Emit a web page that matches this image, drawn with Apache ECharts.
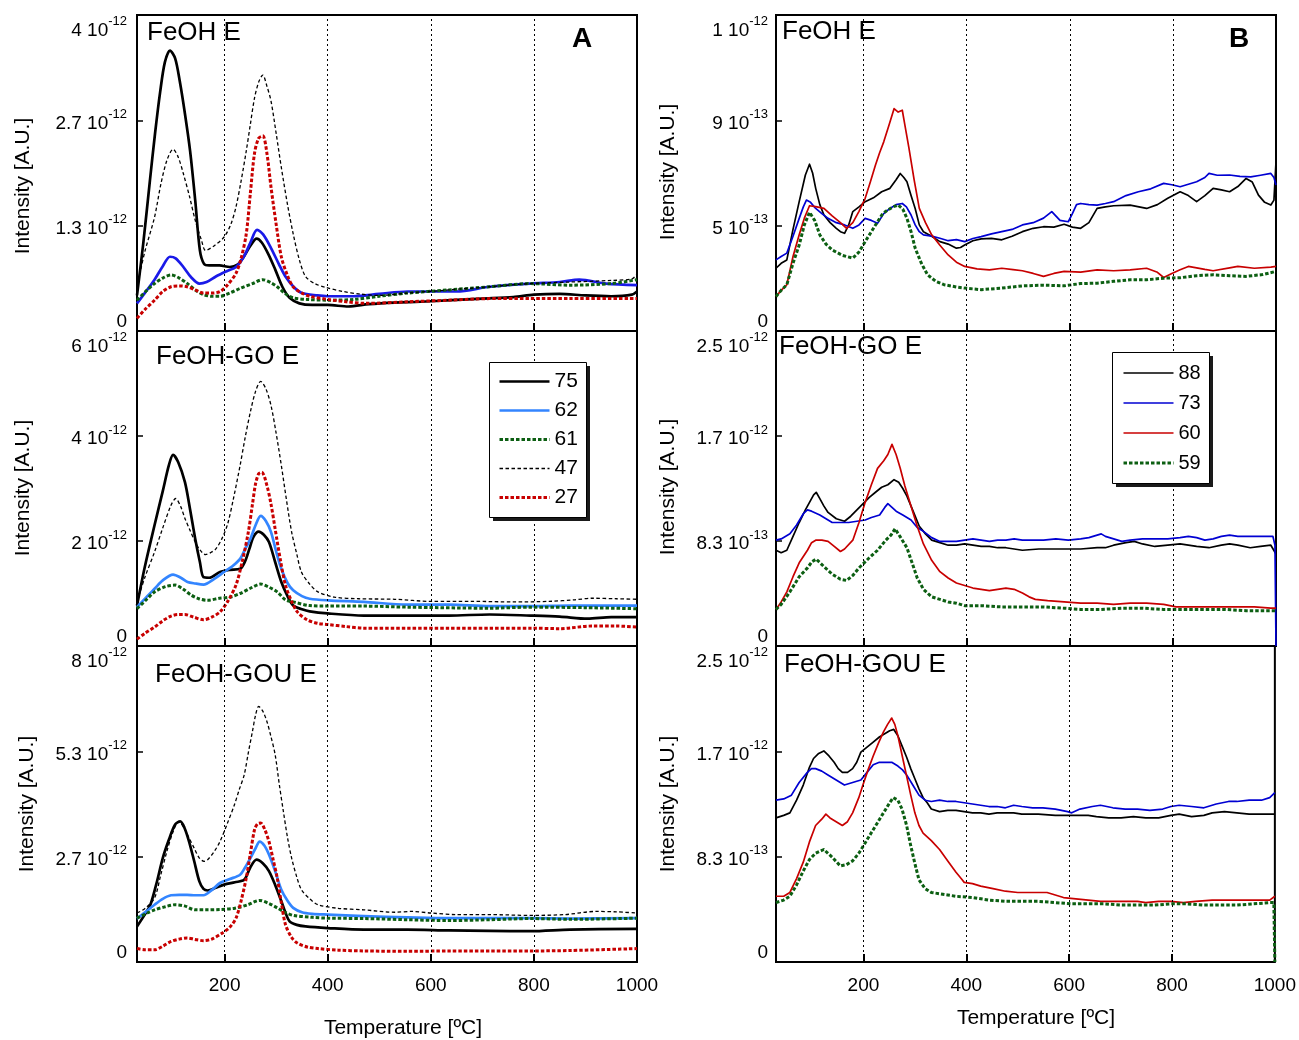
<!DOCTYPE html>
<html>
<head>
<meta charset="utf-8">
<script src="https://cdn.jsdelivr.net/npm/echarts@6/dist/echarts.min.js"></script>
<style>
  html, body { margin: 0; padding: 0; background: #fff; }
  #chart { width: 1299px; height: 1040px; }
</style>
</head>
<body>
<div id="chart"></div>
<script>
// Temperature axis (°C) and tick positions
const tempMin = 30, tempMax = 1000;
const tempTicks = [200, 400, 600, 800, 1000];
const tempGrid = [200, 400, 600, 800];

// Intensity axes, values in units of 1e-12; labels as [mantissa, exponent]
const yMaxA = [4, 6, 8];
const yMaxB = [1.4, 2.5, 2.5];
const yLabelsA1 = [['0'], ['1.3', '-12'], ['2.7', '-12'], ['4', '-12']];
const yLabelsA2 = [['0'], ['2', '-12'], ['4', '-12'], ['6', '-12']];
const yLabelsA3 = [['0'], ['2.7', '-12'], ['5.3', '-12'], ['8', '-12']];
const yLabelsB1 = [['0'], ['5', '-13'], ['9', '-13'], ['1', '-12']];
const yLabelsB2 = [['0'], ['8.3', '-13'], ['1.7', '-12'], ['2.5', '-12']];
const yLabelsB3 = [['0'], ['8.3', '-13'], ['1.7', '-12'], ['2.5', '-12']];

const panelNames = ['FeOH E', 'FeOH-GO E', 'FeOH-GOU E'];
const namesA = ['75', '62', '61', '47', '27'];
const namesB = ['88', '73', '60', '59'];

// ---- Column A : [temperature, intensity] ----
const a1_75 = [[30,0.45],[42,1.10],[55,1.90],[65,2.50],[75,3.03],[84,3.40],[94,3.55],[104,3.45],[113,3.16],[123,2.75],[133,2.28],[143,1.65],[152,1.02],[160,0.85],[170,0.83],[190,0.83],[210,0.81],[225,0.84],[238,0.95],[250,1.08],[262,1.17],[272,1.12],[285,0.97],[298,0.78],[312,0.56],[326,0.42],[345,0.35],[370,0.33],[400,0.33],[440,0.31],[480,0.34],[530,0.36],[580,0.37],[640,0.39],[700,0.41],[760,0.43],[800,0.46],[850,0.47],[900,0.45],[950,0.44],[990,0.46],[1000,0.50]];
const a1_62 = [[30,0.35],[45,0.48],[64,0.65],[80,0.82],[94,0.94],[105,0.92],[120,0.81],[135,0.68],[151,0.60],[165,0.62],[183,0.69],[205,0.76],[222,0.81],[238,0.95],[250,1.12],[263,1.28],[275,1.22],[290,1.05],[305,0.85],[318,0.69],[335,0.55],[350,0.48],[380,0.45],[400,0.44],[450,0.44],[500,0.47],[555,0.50],[600,0.50],[650,0.50],[714,0.56],[793,0.60],[850,0.62],[888,0.65],[940,0.60],[1000,0.58]];
const a1_61 = [[30,0.39],[50,0.52],[64,0.60],[80,0.67],[96,0.71],[112,0.67],[128,0.60],[145,0.51],[159,0.46],[175,0.44],[191,0.44],[210,0.48],[230,0.54],[254,0.60],[274,0.65],[290,0.61],[302,0.56],[318,0.47],[333,0.42],[360,0.40],[400,0.39],[450,0.40],[500,0.44],[555,0.48],[635,0.52],[714,0.56],[793,0.60],[870,0.58],[950,0.60],[1000,0.65]];
const a1_47 = [[30,0.56],[45,1.00],[64,1.44],[76,1.85],[88,2.16],[100,2.30],[110,2.20],[120,1.99],[132,1.70],[143,1.40],[155,1.15],[163,1.02],[180,1.08],[199,1.19],[212,1.35],[222,1.57],[232,1.90],[242,2.28],[250,2.62],[258,2.95],[266,3.15],[274,3.24],[282,3.10],[290,2.91],[300,2.50],[310,2.07],[322,1.60],[333,1.23],[345,0.90],[357,0.69],[375,0.60],[397,0.55],[430,0.50],[460,0.47],[500,0.45],[555,0.48],[635,0.52],[714,0.56],[793,0.60],[870,0.62],[950,0.64],[990,0.66],[1000,0.72]];
const a1_27 = [[30,0.16],[45,0.27],[64,0.39],[80,0.50],[96,0.56],[112,0.57],[127,0.56],[143,0.52],[159,0.48],[175,0.48],[191,0.50],[205,0.58],[222,0.73],[232,0.92],[242,1.23],[250,1.75],[258,2.25],[266,2.44],[274,2.47],[282,2.25],[290,1.82],[300,1.35],[310,0.94],[322,0.70],[333,0.56],[350,0.48],[365,0.44],[400,0.40],[436,0.37],[475,0.35],[555,0.37],[635,0.39],[714,0.41],[793,0.41],[870,0.41],[1000,0.41]];

const a2_75 = [[30,0.77],[45,1.50],[64,2.30],[80,2.95],[92,3.45],[100,3.64],[110,3.50],[123,3.12],[133,2.60],[143,2.04],[152,1.60],[159,1.31],[170,1.30],[191,1.41],[210,1.45],[230,1.47],[240,1.62],[248,1.85],[256,2.08],[266,2.18],[276,2.12],[286,1.98],[298,1.60],[310,1.22],[322,0.95],[333,0.77],[350,0.70],[365,0.66],[400,0.62],[470,0.58],[555,0.58],[635,0.58],[714,0.60],[793,0.58],[850,0.56],[904,0.52],[950,0.55],[1000,0.55]];
const a2_62 = [[30,0.74],[50,0.95],[64,1.09],[80,1.25],[100,1.36],[115,1.30],[128,1.22],[143,1.19],[159,1.17],[180,1.28],[199,1.41],[215,1.52],[230,1.66],[240,1.85],[250,2.04],[260,2.30],[270,2.48],[280,2.38],[290,2.17],[300,1.80],[310,1.47],[322,1.20],[333,1.06],[350,0.95],[365,0.90],[400,0.87],[470,0.84],[555,0.79],[635,0.79],[714,0.76],[793,0.76],[870,0.77],[1000,0.77]];
const a2_61 = [[30,0.71],[50,0.90],[64,1.03],[85,1.13],[104,1.16],[120,1.08],[135,0.97],[150,0.90],[167,0.87],[190,0.91],[210,0.93],[230,1.00],[250,1.10],[270,1.18],[286,1.12],[302,1.03],[318,0.88],[333,0.84],[365,0.77],[400,0.76],[470,0.76],[555,0.74],[714,0.72],[793,0.74],[900,0.73],[1000,0.71]];
const a2_47 = [[30,0.84],[45,1.30],[64,1.79],[80,2.25],[96,2.68],[105,2.81],[115,2.65],[123,2.43],[133,2.20],[143,1.98],[153,1.82],[163,1.74],[173,1.78],[183,1.85],[195,2.05],[206,2.33],[218,2.85],[230,3.44],[240,3.98],[250,4.46],[260,4.85],[270,5.04],[280,4.90],[290,4.58],[300,4.05],[310,3.44],[320,2.78],[330,2.17],[340,1.75],[349,1.41],[365,1.18],[381,1.03],[413,0.93],[460,0.90],[530,0.89],[600,0.85],[680,0.85],[760,0.84],[830,0.85],[880,0.88],[912,0.91],[960,0.90],[1000,0.89]];
const a2_27 = [[30,0.13],[45,0.24],[64,0.36],[80,0.48],[96,0.57],[110,0.60],[123,0.60],[140,0.55],[159,0.50],[175,0.55],[191,0.65],[206,0.85],[222,1.16],[234,1.60],[246,2.17],[254,2.70],[260,3.09],[266,3.28],[272,3.31],[282,3.06],[290,2.70],[298,2.23],[308,1.65],[318,1.16],[330,0.85],[341,0.65],[360,0.50],[381,0.43],[400,0.41],[436,0.37],[470,0.34],[555,0.34],[635,0.34],[714,0.34],[793,0.34],[850,0.33],[912,0.38],[960,0.38],[1000,0.36]];

const a3_75 = [[30,0.90],[45,1.20],[56,1.45],[68,2.00],[80,2.63],[92,3.10],[104,3.48],[114,3.56],[122,3.40],[131,3.05],[141,2.55],[151,2.04],[159,1.85],[167,1.81],[183,1.88],[199,1.96],[220,2.02],[238,2.08],[250,2.40],[262,2.59],[274,2.50],[286,2.30],[298,1.95],[310,1.54],[318,1.25],[326,1.03],[340,0.94],[357,0.90],[400,0.86],[470,0.82],[555,0.82],[635,0.80],[714,0.79],[793,0.78],[870,0.82],[1000,0.84]];
const a3_62 = [[30,1.10],[45,1.25],[64,1.45],[80,1.60],[96,1.69],[112,1.70],[127,1.70],[143,1.69],[159,1.69],[175,1.82],[191,2.00],[210,2.10],[230,2.21],[240,2.40],[250,2.63],[260,2.88],[268,3.05],[277,2.95],[286,2.72],[298,2.30],[310,1.83],[322,1.55],[333,1.37],[350,1.26],[370,1.22],[400,1.20],[470,1.16],[555,1.13],[635,1.11],[714,1.11],[793,1.11],[870,1.10],[1000,1.11]];
const a3_61 = [[30,1.11],[50,1.24],[64,1.32],[85,1.40],[104,1.45],[122,1.42],[143,1.32],[165,1.32],[191,1.33],[220,1.36],[245,1.45],[268,1.56],[286,1.48],[302,1.37],[318,1.25],[333,1.18],[370,1.13],[400,1.11],[470,1.10],[555,1.07],[635,1.05],[714,1.07],[793,1.10],[870,1.08],[1000,1.11]];
const a3_47 = [[30,1.24],[45,1.35],[64,1.62],[76,2.20],[88,2.80],[100,3.30],[111,3.56],[121,3.40],[131,3.14],[141,2.88],[151,2.63],[160,2.55],[167,2.59],[180,2.80],[191,3.05],[205,3.50],[219,3.98],[228,4.35],[238,4.74],[246,5.30],[254,5.84],[260,6.25],[266,6.47],[274,6.35],[282,6.09],[290,5.70],[298,5.25],[306,4.50],[314,3.81],[322,3.15],[330,2.63],[340,2.15],[349,1.83],[365,1.60],[381,1.45],[420,1.36],[470,1.32],[530,1.26],[563,1.28],[600,1.24],[650,1.20],[714,1.20],[793,1.18],[860,1.20],[920,1.28],[960,1.27],[1000,1.24]];
const a3_27 = [[30,0.34],[45,0.31],[64,0.31],[80,0.40],[96,0.52],[112,0.58],[127,0.61],[143,0.57],[159,0.54],[175,0.58],[195,0.73],[210,0.88],[222,1.11],[232,1.55],[242,2.13],[250,2.75],[258,3.35],[264,3.50],[270,3.52],[278,3.35],[286,3.05],[294,2.60],[302,2.13],[310,1.50],[318,0.95],[330,0.62],[341,0.48],[360,0.38],[381,0.34],[420,0.30],[470,0.28],[555,0.27],[635,0.28],[714,0.28],[793,0.28],[870,0.29],[1000,0.34]];

// ---- Column B : [temperature, intensity] ----
const b1_88 = [[30,0.278],[40,0.300],[51,0.315],[63,0.45],[75,0.573],[87,0.691],[95,0.739],[101,0.70],[107,0.632],[115,0.56],[123,0.514],[135,0.48],[147,0.455],[155,0.44],[163,0.433],[171,0.47],[179,0.529],[191,0.55],[203,0.573],[219,0.59],[235,0.617],[251,0.632],[263,0.67],[271,0.698],[278,0.68],[284,0.661],[292,0.60],[300,0.543],[308,0.47],[316,0.44],[332,0.42],[348,0.396],[364,0.385],[380,0.367],[388,0.37],[396,0.381],[412,0.40],[428,0.408],[448,0.41],[468,0.404],[488,0.42],[508,0.44],[529,0.455],[549,0.462],[569,0.46],[589,0.473],[605,0.46],[621,0.455],[637,0.48],[653,0.543],[669,0.55],[685,0.555],[717,0.558],[749,0.543],[770,0.56],[790,0.588],[814,0.617],[830,0.60],[846,0.573],[862,0.60],[878,0.632],[894,0.625],[910,0.617],[926,0.64],[942,0.676],[954,0.66],[966,0.602],[978,0.57],[990,0.558],[996,0.58],[1000,0.75]];
const b1_73 = [[30,0.315],[40,0.33],[51,0.345],[63,0.42],[75,0.499],[83,0.55],[89,0.58],[97,0.57],[107,0.543],[119,0.52],[131,0.499],[147,0.48],[163,0.47],[179,0.455],[191,0.47],[203,0.499],[215,0.49],[227,0.477],[239,0.52],[251,0.543],[263,0.56],[275,0.565],[283,0.55],[292,0.514],[300,0.47],[308,0.44],[316,0.426],[332,0.42],[348,0.411],[364,0.40],[380,0.405],[396,0.396],[412,0.41],[428,0.418],[448,0.43],[468,0.44],[488,0.45],[508,0.47],[529,0.48],[549,0.50],[565,0.529],[581,0.49],[597,0.484],[605,0.52],[613,0.56],[621,0.565],[637,0.56],[653,0.558],[669,0.565],[685,0.573],[709,0.60],[733,0.617],[757,0.63],[782,0.654],[798,0.648],[814,0.639],[830,0.65],[846,0.661],[862,0.68],[870,0.698],[886,0.69],[910,0.691],[930,0.685],[951,0.683],[970,0.69],[990,0.698],[996,0.68],[1000,0.647]];
const b1_60 = [[30,0.153],[40,0.18],[51,0.205],[63,0.33],[75,0.426],[85,0.50],[95,0.555],[107,0.551],[123,0.543],[139,0.51],[155,0.48],[167,0.455],[179,0.48],[191,0.53],[203,0.588],[213,0.66],[223,0.735],[231,0.79],[239,0.838],[249,0.91],[259,0.985],[267,0.97],[275,0.978],[281,0.90],[288,0.809],[298,0.67],[308,0.543],[320,0.48],[332,0.426],[348,0.38],[364,0.337],[380,0.305],[396,0.286],[420,0.275],[444,0.271],[468,0.278],[490,0.272],[508,0.267],[529,0.255],[549,0.242],[569,0.255],[589,0.264],[621,0.261],[653,0.271],[685,0.267],[717,0.271],[749,0.278],[770,0.26],[782,0.237],[798,0.255],[814,0.271],[830,0.286],[846,0.28],[862,0.273],[878,0.267],[910,0.28],[926,0.286],[958,0.278],[990,0.283],[1000,0.286]];
const b1_59 = [[30,0.153],[40,0.18],[51,0.205],[63,0.30],[75,0.381],[85,0.47],[95,0.526],[105,0.49],[115,0.426],[127,0.385],[139,0.359],[159,0.335],[179,0.323],[191,0.35],[203,0.396],[215,0.44],[227,0.484],[237,0.52],[247,0.536],[257,0.55],[267,0.558],[276,0.54],[284,0.499],[292,0.44],[300,0.367],[312,0.30],[324,0.249],[340,0.22],[356,0.205],[380,0.195],[396,0.19],[428,0.183],[468,0.19],[508,0.20],[549,0.203],[589,0.20],[621,0.21],[653,0.212],[685,0.22],[717,0.227],[749,0.227],[782,0.234],[814,0.236],[846,0.245],[878,0.249],[910,0.245],[942,0.242],[974,0.25],[1000,0.264]];

const b2_88 = [[30,0.76],[40,0.74],[51,0.76],[63,0.87],[75,0.98],[87,1.08],[95,1.14],[103,1.20],[108,1.22],[115,1.17],[123,1.11],[131,1.06],[147,1.01],[163,0.99],[175,1.03],[187,1.08],[199,1.13],[211,1.18],[223,1.22],[235,1.26],[247,1.28],[259,1.32],[268,1.30],[276,1.25],[284,1.19],[296,1.07],[308,0.95],[320,0.89],[332,0.84],[348,0.82],[364,0.80],[380,0.80],[396,0.81],[412,0.80],[428,0.79],[444,0.79],[460,0.78],[476,0.78],[492,0.77],[508,0.76],[540,0.77],[589,0.77],[621,0.77],[653,0.78],[669,0.78],[685,0.80],[709,0.82],[725,0.83],[741,0.81],[765,0.79],[790,0.80],[814,0.81],[830,0.80],[846,0.79],[870,0.78],[894,0.80],[910,0.81],[926,0.80],[950,0.78],[970,0.79],[990,0.80],[1000,0.73]];
const b2_73 = [[30,0.84],[40,0.85],[57,0.89],[70,0.96],[83,1.05],[91,1.08],[99,1.07],[115,1.04],[131,1.00],[139,0.98],[155,0.98],[171,0.98],[187,0.99],[203,1.00],[215,1.02],[231,1.04],[241,1.10],[247,1.13],[255,1.10],[263,1.07],[276,1.04],[292,1.00],[304,0.94],[316,0.91],[332,0.86],[348,0.83],[364,0.83],[380,0.83],[396,0.84],[412,0.85],[428,0.84],[444,0.83],[460,0.84],[476,0.84],[492,0.85],[508,0.84],[529,0.84],[549,0.84],[573,0.85],[597,0.84],[621,0.85],[637,0.86],[653,0.88],[661,0.89],[669,0.87],[685,0.85],[701,0.83],[717,0.84],[741,0.85],[765,0.85],[790,0.85],[814,0.86],[830,0.87],[846,0.86],[862,0.84],[878,0.85],[894,0.87],[910,0.88],[926,0.87],[950,0.87],[974,0.87],[994,0.87],[998,0.80],[1000,0.0]];
const b2_60 = [[30,0.29],[40,0.35],[51,0.43],[63,0.55],[75,0.66],[91,0.76],[99,0.82],[107,0.84],[119,0.84],[131,0.83],[143,0.79],[155,0.75],[163,0.77],[179,0.84],[191,0.98],[203,1.14],[215,1.28],[227,1.41],[239,1.47],[247,1.52],[255,1.60],[263,1.52],[271,1.41],[280,1.27],[292,1.11],[304,0.95],[316,0.81],[332,0.68],[348,0.59],[364,0.54],[380,0.50],[396,0.48],[412,0.46],[428,0.45],[444,0.44],[460,0.45],[476,0.46],[492,0.45],[508,0.42],[521,0.39],[533,0.37],[557,0.36],[589,0.35],[621,0.34],[653,0.34],[685,0.33],[717,0.34],[749,0.34],[782,0.33],[806,0.31],[830,0.31],[862,0.31],[894,0.31],[926,0.31],[958,0.31],[990,0.30],[1000,0.30]];
const b2_59 = [[30,0.29],[40,0.33],[57,0.43],[75,0.55],[91,0.62],[100,0.67],[108,0.69],[123,0.63],[139,0.57],[155,0.53],[167,0.52],[179,0.56],[191,0.62],[211,0.70],[227,0.76],[243,0.84],[253,0.88],[261,0.93],[272,0.86],[284,0.78],[294,0.66],[304,0.54],[316,0.45],[332,0.39],[348,0.37],[364,0.35],[380,0.34],[396,0.32],[428,0.32],[468,0.31],[508,0.31],[549,0.31],[589,0.30],[621,0.29],[661,0.29],[701,0.30],[741,0.30],[782,0.29],[822,0.29],[862,0.29],[902,0.29],[942,0.28],[1000,0.28]];

const b3_88 = [[30,1.14],[45,1.16],[57,1.18],[70,1.28],[83,1.40],[95,1.54],[103,1.61],[113,1.65],[123,1.67],[133,1.63],[143,1.58],[151,1.53],[159,1.50],[169,1.50],[179,1.53],[187,1.58],[195,1.66],[207,1.70],[219,1.74],[231,1.78],[243,1.81],[251,1.83],[259,1.84],[267,1.79],[275,1.71],[284,1.62],[292,1.53],[300,1.45],[308,1.37],[316,1.30],[324,1.26],[332,1.21],[348,1.19],[364,1.20],[380,1.20],[396,1.19],[412,1.18],[428,1.18],[444,1.17],[460,1.18],[476,1.18],[492,1.18],[508,1.17],[540,1.17],[573,1.16],[605,1.16],[637,1.16],[653,1.15],[677,1.14],[701,1.14],[725,1.15],[749,1.14],[774,1.14],[798,1.16],[814,1.17],[838,1.15],[862,1.16],[878,1.18],[902,1.19],[926,1.18],[950,1.17],[974,1.17],[1000,1.17]];
const b3_73 = [[30,1.28],[45,1.29],[60,1.32],[75,1.42],[91,1.50],[99,1.53],[107,1.53],[119,1.51],[131,1.48],[147,1.44],[163,1.40],[179,1.42],[195,1.44],[207,1.50],[219,1.56],[231,1.58],[243,1.58],[255,1.58],[267,1.55],[276,1.52],[284,1.48],[296,1.40],[308,1.32],[320,1.28],[332,1.27],[348,1.28],[364,1.27],[380,1.27],[396,1.26],[412,1.25],[428,1.24],[444,1.23],[460,1.23],[476,1.22],[492,1.24],[508,1.23],[529,1.22],[549,1.22],[573,1.21],[597,1.19],[605,1.18],[621,1.21],[645,1.23],[661,1.24],[685,1.22],[709,1.21],[733,1.21],[757,1.20],[782,1.21],[798,1.23],[814,1.24],[838,1.23],[862,1.22],[886,1.25],[910,1.27],[926,1.27],[950,1.28],[974,1.28],[990,1.30],[1000,1.34]];
const b3_60 = [[30,0.52],[45,0.52],[57,0.55],[70,0.66],[83,0.79],[95,0.95],[107,1.08],[119,1.13],[127,1.17],[135,1.14],[147,1.11],[159,1.08],[169,1.11],[179,1.18],[191,1.30],[199,1.40],[209,1.52],[219,1.63],[229,1.73],[239,1.82],[247,1.88],[255,1.93],[261,1.88],[267,1.79],[276,1.62],[284,1.47],[292,1.32],[300,1.18],[308,1.08],[316,1.02],[332,0.96],[348,0.89],[364,0.80],[380,0.71],[390,0.66],[396,0.63],[412,0.62],[428,0.60],[452,0.58],[476,0.56],[500,0.55],[529,0.55],[557,0.55],[573,0.53],[589,0.51],[613,0.50],[637,0.49],[661,0.48],[685,0.48],[709,0.48],[733,0.48],[749,0.47],[774,0.48],[798,0.48],[822,0.47],[846,0.48],[878,0.49],[910,0.49],[942,0.49],[974,0.49],[990,0.49],[1000,0.52]];
const b3_59 = [[30,0.47],[45,0.49],[57,0.52],[70,0.61],[83,0.72],[95,0.81],[107,0.86],[123,0.89],[139,0.83],[155,0.76],[167,0.77],[179,0.80],[191,0.86],[203,0.94],[215,1.02],[227,1.10],[239,1.18],[251,1.26],[258,1.30],[267,1.28],[275,1.21],[284,1.08],[292,0.92],[300,0.78],[308,0.65],[320,0.58],[332,0.55],[348,0.54],[364,0.53],[380,0.52],[412,0.51],[444,0.49],[476,0.48],[508,0.48],[540,0.48],[573,0.47],[605,0.46],[637,0.46],[669,0.46],[701,0.45],[733,0.45],[765,0.45],[798,0.46],[830,0.46],[862,0.45],[894,0.45],[926,0.45],[958,0.46],[990,0.47],[998,0.47],[1000,0.0]];

// ---- styles ----
const FONT = '"Liberation Sans", Arial, Helvetica, sans-serif';
const styleA = {
  '75': { color: '#000000', width: 2.7, type: 'solid' },
  '62': { color: '#3385ff', width: 2.7, type: 'solid' },
  '61': { color: '#0c5f12', width: 3, type: [3.5, 2] },
  '47': { color: '#000000', width: 1.3, type: [3.5, 2.5] },
  '27': { color: '#c80000', width: 3, type: [3.5, 2] }
};
const styleB = {
  '88': { color: '#000000', width: 1.7, type: 'solid' },
  '73': { color: '#0000d2', width: 1.7, type: 'solid' },
  '60': { color: '#c80000', width: 1.7, type: 'solid' },
  '59': { color: '#0c5f12', width: 3, type: [3.5, 2] }
};

const colLeft = [137, 776];
const plotWidth = 500;
const rowTop = [15, 331, 646];
const rowHeight = [316, 315, 316];

// legend frames: [x, y, width, height]
const legendBoxA = [489, 362, 97, 155];
const legendBoxB = [1112, 352, 97, 131];

const panels = [
  { col: 0, row: 0, ymax: yMaxA[0], labels: yLabelsA1, style: styleA, names: namesA,
    data: [a1_75, a1_62, a1_61, a1_47, a1_27], override: { '62': { color: '#1a1ae8' } } },
  { col: 0, row: 1, ymax: yMaxA[1], labels: yLabelsA2, style: styleA, names: namesA,
    data: [a2_75, a2_62, a2_61, a2_47, a2_27] },
  { col: 0, row: 2, ymax: yMaxA[2], labels: yLabelsA3, style: styleA, names: namesA,
    data: [a3_75, a3_62, a3_61, a3_47, a3_27] },
  { col: 1, row: 0, ymax: yMaxB[0], labels: yLabelsB1, style: styleB, names: namesB,
    data: [b1_88, b1_73, b1_60, b1_59] },
  { col: 1, row: 1, ymax: yMaxB[1], labels: yLabelsB2, style: styleB, names: namesB,
    data: [b2_88, b2_73, b2_60, b2_59] },
  { col: 1, row: 2, ymax: yMaxB[2], labels: yLabelsB3, style: styleB, names: namesB,
    data: [b3_88, b3_73, b3_60, b3_59] }
];

function tickFormatter(labels, step) {
  return function (v) {
    const lab = labels[Math.round(v / step)];
    if (!lab) return '';
    return lab[1] ? '{m|' + lab[0] + ' 10}{e|' + lab[1] + '}' : '{m|' + lab[0] + '}';
  };
}

const grids = [], xAxes = [], yAxes = [], series = [];
panels.forEach(function (p, i) {
  grids.push({
    left: colLeft[p.col], top: rowTop[p.row], width: plotWidth, height: rowHeight[p.row],
    show: true, borderColor: '#000', borderWidth: 2, backgroundColor: 'transparent'
  });
  const bottom = p.row === 2;
  xAxes.push({
    gridIndex: i, type: 'value', min: tempMin, max: tempMax,
    axisLine: { show: false },
    axisTick: { show: true, inside: true, length: 8, customValues: tempTicks,
      lineStyle: { color: '#000', width: 2 } },
    axisLabel: { show: bottom, customValues: tempTicks, margin: 14,
      formatter: function (v) { return String(v); },
      fontSize: 19, fontFamily: FONT, color: '#000' },
    splitLine: { show: false }
  });
  const step = p.ymax / 3;
  yAxes.push({
    gridIndex: i, type: 'value', min: 0, max: p.ymax, interval: step,
    axisLine: { show: false },
    axisTick: { show: true, inside: true, length: 6, lineStyle: { color: '#000', width: 1.5 } },
    axisLabel: {
      margin: p.col === 0 ? 10 : 8,
      formatter: tickFormatter(p.labels, step),
      verticalAlignMinLabel: 'bottom',
      verticalAlignMaxLabel: 'top',
      rich: {
        m: { fontSize: 19, fontFamily: FONT, color: '#000', lineHeight: 25, verticalAlign: 'bottom' },
        e: { fontSize: 13, fontFamily: FONT, color: '#000', lineHeight: 25, verticalAlign: 'top' }
      }
    },
    splitLine: { show: false }
  });
  // dotted temperature guides behind the curves
  series.push({
    type: 'line', xAxisIndex: i, yAxisIndex: i, z: 1, silent: true,
    data: [[tempMin, 0]], showSymbol: false, lineStyle: { opacity: 0 },
    markLine: {
      silent: true, symbol: ['none', 'none'], label: { show: false },
      lineStyle: { color: '#000', type: [2, 3], width: 1 },
      emphasis: { disabled: true },
      data: tempGrid.map(function (t) { return { xAxis: t }; })
    }
  });
  p.data.forEach(function (d, k) {
    const name = p.names[k];
    const st = Object.assign({}, p.style[name], (p.override || {})[name] || {});
    series.push({
      name: name, type: 'line', xAxisIndex: i, yAxisIndex: i, z: 3,
      data: d, symbol: 'none', showSymbol: false,
      smooth: p.col === 0 ? 0.3 : false,
      clip: true, animation: false,
      lineStyle: { color: st.color, width: st.width, type: st.type, cap: 'butt', join: 'round' },
      itemStyle: { color: st.color },
      emphasis: { disabled: true }
    });
  });
});

function legendItems(names, style) {
  return names.map(function (n) {
    const st = style[n];
    return { name: n, itemStyle: { opacity: 0 },
      lineStyle: { color: st.color, width: st.width, type: st.type } };
  });
}

// white framed box with a solid drop shadow, placed under each legend
function legendFrame(box) {
  return [
    { type: 'rect', z: 20, silent: true,
      shape: { x: box[0] + 4, y: box[1] + 4, width: box[2], height: box[3] },
      style: { fill: '#1a1a1a' } },
    { type: 'rect', z: 21, silent: true,
      shape: { x: box[0] + 0.5, y: box[1] + 0.5, width: box[2], height: box[3] },
      style: { fill: '#fff', stroke: '#000', lineWidth: 1 } }
  ];
}

const legendCommon = {
  orient: 'vertical', itemWidth: 50, itemHeight: 20, z: 30,
  backgroundColor: 'transparent', borderWidth: 0,
  selectedMode: false
};

function rotatedLabel(x, y) {
  return { type: 'text', x: x, y: y, rotation: Math.PI / 2,
    style: { text: 'Intensity [A.U.]', font: '21px ' + FONT, fill: '#000',
      textAlign: 'center', textVerticalAlign: 'middle' } };
}

const option = {
  animation: false,
  backgroundColor: '#fff',
  textStyle: { fontFamily: FONT },
  grid: grids,
  xAxis: xAxes,
  yAxis: yAxes,
  series: series,
  legend: [
    Object.assign({}, legendCommon, {
      left: legendBoxA[0], top: legendBoxA[1], itemGap: 8, padding: [9, 10, 10, 9],
      data: legendItems(namesA, styleA),
      textStyle: { fontSize: 21, fontFamily: FONT, color: '#000', lineHeight: 20 }
    }),
    Object.assign({}, legendCommon, {
      left: legendBoxB[0], top: legendBoxB[1], itemGap: 10, padding: [11, 10, 10, 10],
      data: legendItems(namesB, styleB),
      textStyle: { fontSize: 20, fontFamily: FONT, color: '#000', lineHeight: 20 }
    })
  ],
  graphic: [].concat(legendFrame(legendBoxA), legendFrame(legendBoxB), [
    // panel titles
    { type: 'text', x: 147, y: 20, style: { text: panelNames[0], font: '26px ' + FONT, fill: '#000' } },
    { type: 'text', x: 156, y: 344, style: { text: panelNames[1], font: '26px ' + FONT, fill: '#000' } },
    { type: 'text', x: 155, y: 662, style: { text: panelNames[2], font: '26px ' + FONT, fill: '#000' } },
    { type: 'text', x: 782, y: 19, style: { text: panelNames[0], font: '26px ' + FONT, fill: '#000' } },
    { type: 'text', x: 779, y: 334, style: { text: panelNames[1], font: '26px ' + FONT, fill: '#000' } },
    { type: 'text', x: 784, y: 652, style: { text: panelNames[2], font: '26px ' + FONT, fill: '#000' } },
    { type: 'text', x: 572, y: 25, style: { text: 'A', font: 'bold 28px ' + FONT, fill: '#000' } },
    { type: 'text', x: 1229, y: 25, style: { text: 'B', font: 'bold 28px ' + FONT, fill: '#000' } },
    // axis titles
    rotatedLabel(23, 186), rotatedLabel(23, 488), rotatedLabel(27, 804),
    rotatedLabel(668, 172), rotatedLabel(668, 487), rotatedLabel(668, 804),
    { type: 'text', x: 403, y: 1028,
      style: { text: 'Temperature [ºC]', font: '21px ' + FONT, fill: '#000', textAlign: 'center', textVerticalAlign: 'middle' } },
    { type: 'text', x: 1036, y: 1018,
      style: { text: 'Temperature [ºC]', font: '21px ' + FONT, fill: '#000', textAlign: 'center', textVerticalAlign: 'middle' } }
  ])
};

const chart = echarts.init(document.getElementById('chart'), null, { renderer: 'canvas' });
chart.setOption(option);
</script>
</body>
</html>
